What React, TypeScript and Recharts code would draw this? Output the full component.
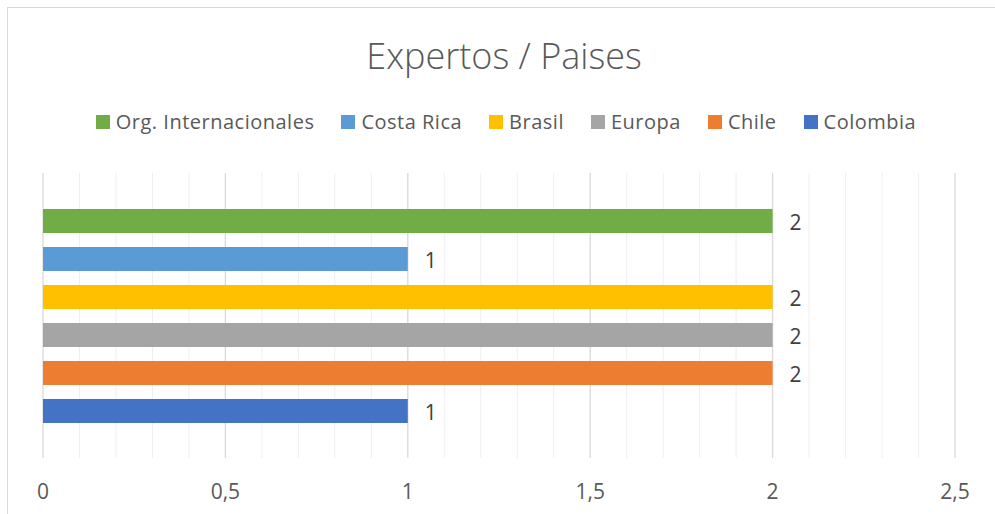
import React from "react";
import { BarChart, Bar, XAxis, YAxis, CartesianGrid, Legend, LabelList } from "recharts";

const categories = ["Expertos"];
const seriesKeys = ["org", "costaRica", "brasil", "europa", "chile", "colombia"];
const seriesNames = ["Org. Internacionales", "Costa Rica", "Brasil", "Europa", "Chile", "Colombia"];
const seriesValues = [2, 1, 2, 2, 2, 1];
const seriesColors = ["#70AD47", "#5B9BD5", "#FFC000", "#A5A5A5", "#ED7D31", "#4472C4"];
const majorTicks = [0, 0.5, 1, 1.5, 2, 2.5];
const minorTicks = [0.1, 0.2, 0.3, 0.4, 0.6, 0.7, 0.8, 0.9, 1.1, 1.2, 1.3, 1.4, 1.6, 1.7, 1.8, 1.9, 2.1, 2.2, 2.3, 2.4];
const title = "Expertos / Paises";

const rows = categories.map((name) => {
  const r: Record<string, any> = { name };
  seriesKeys.forEach((k, i) => (r[k] = seriesValues[i]));
  return r;
});

const FONT = "'Open Sans', 'Liberation Sans', sans-serif";

const LegendContent = () => (
  <div style={{ display: "flex", justifyContent: "center", alignItems: "center", fontFamily: FONT, fontSize: 20, letterSpacing: 0.5, color: "#595959" }}>
    {seriesNames.map((n, i) => (
      <div key={n} style={{ display: "flex", alignItems: "center", marginLeft: i === 0 ? 0 : 27 }}>
        <span style={{ width: 14, height: 14, background: seriesColors[i], display: "inline-block", marginRight: 6 }} />
        <span>{n}</span>
      </div>
    ))}
  </div>
);

export default function App() {
  return (
    <div style={{ position: "absolute", left: 0, top: 0, width: 995, height: 514, background: "#fff", overflow: "hidden" }}>
      <div style={{ position: "absolute", left: 7, top: 7, width: 1100, height: 1100, border: "1px solid #d9d9d9" }} />
      <div
        style={{
          position: "absolute",
          left: 0,
          top: 32,
          width: 1008,
          textAlign: "center",
          fontFamily: FONT,
          fontSize: 36,
          fontWeight: 300,
          color: "#595959",
          lineHeight: "48px",
        }}
      >
        {title}
      </div>
      <div style={{ position: "absolute", left: 0, top: 0 }}>
        <BarChart
          width={995}
          height={514}
          layout="vertical"
          data={rows}
          margin={{ top: 173, right: 40, bottom: 26, left: 43 }}
          barSize={24}
          barGap={14}
        >
          <CartesianGrid horizontal={false} verticalValues={minorTicks} stroke="#efefef" />
          <CartesianGrid horizontal={false} verticalValues={majorTicks} stroke="#d9d9d9" strokeWidth={1.3} />
          <XAxis
            type="number"
            domain={[0, 2.5]}
            ticks={majorTicks}
            axisLine={false}
            tickLine={false}
            tickSize={0}
            tickMargin={26}
            height={30}
            tick={{ fill: "#595959", fontSize: 21, fontFamily: FONT }}
            tickFormatter={(v: number) => String(v).replace(".", ",")}
          />
          <YAxis type="category" dataKey="name" hide />
          <Legend
            layout="horizontal"
            verticalAlign="middle"
            align="center"
            content={<LegendContent />}
            wrapperStyle={{ top: 108, left: 0, width: 1012 }}
          />
          {seriesKeys.map((k, i) => (
            <Bar key={k} dataKey={k} name={seriesNames[i]} fill={seriesColors[i]} isAnimationActive={false}>
              <LabelList dataKey={k} position="right" offset={17} fill="#404040" fontSize={21} fontFamily={FONT} dy={2} />
            </Bar>
          ))}
        </BarChart>
      </div>
    </div>
  );
}
